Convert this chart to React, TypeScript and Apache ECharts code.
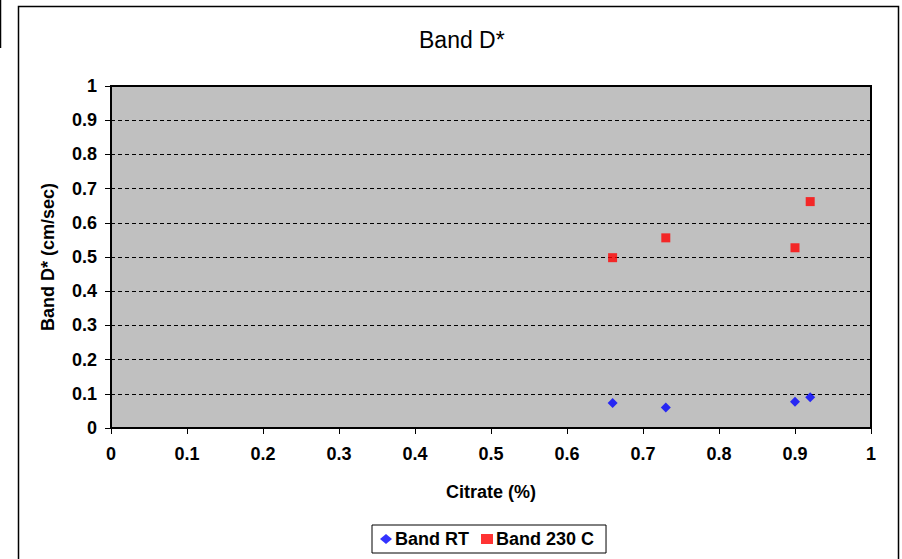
import React, { useEffect, useRef } from "react";
import * as echarts from "echarts";

const titleText = "Band D*";
const xName = "Citrate (%)";
const yName = "Band D* (cm/sec)";
const rtName = "Band RT";
const hotName = "Band 230 C";
const rtX = [0.66, 0.73, 0.9, 0.92];
const rtY = [0.073, 0.06, 0.077, 0.09];
const hotX = [0.66, 0.73, 0.9, 0.92];
const hotY = [0.498, 0.556, 0.527, 0.662];

const FONT = "'Liberation Sans', Arial, sans-serif";

export default function App() {
  const ref = useRef<HTMLDivElement>(null);
  useEffect(() => {
    document.body.style.margin = "0";
    const chart = echarts.init(ref.current!, null, { renderer: "svg" });
    const label = { fontFamily: FONT, fontWeight: "bold", fontSize: 18, color: "#000" };
    chart.setOption({
      animation: false,
      backgroundColor: "#fff",
      title: {
        text: titleText,
        left: 414,
        top: 23,
        textStyle: { fontFamily: FONT, fontWeight: "normal", fontSize: 23, color: "#000" },
      },
      grid: {
        left: 111,
        top: 86,
        width: 760,
        height: 342,
        show: true,
        backgroundColor: "#c0c0c0",
        borderColor: "#000",
        borderWidth: 2,
      },
      legend: {
        left: 372,
        top: 525,
        itemGap: 12,
        itemWidth: 12,
        itemHeight: 10,
        padding: [5, 12, 5, 8],
        borderColor: "#000",
        borderWidth: 1,
        textStyle: { ...label, padding: [0, 0, 0, -2] },
        data: [
          { name: rtName, icon: "diamond" },
          { name: hotName, icon: "rect" },
        ],
      },
      xAxis: {
        type: "value",
        min: 0,
        max: 1,
        interval: 0.1,
        name: xName,
        nameLocation: "middle",
        nameGap: 55,
        nameTextStyle: label,
        axisLine: { show: true, lineStyle: { color: "#000", width: 2 } },
        axisTick: { show: true, length: 6, lineStyle: { color: "#000", width: 1 } },
        axisLabel: { ...label, margin: 17 },
        splitLine: { show: false },
      },
      yAxis: {
        type: "value",
        min: 0,
        max: 1,
        interval: 0.1,
        name: yName,
        nameLocation: "middle",
        nameGap: 54,
        nameTextStyle: label,
        axisLine: { show: true, lineStyle: { color: "#000", width: 2 } },
        axisTick: { show: true, length: 6, lineStyle: { color: "#000", width: 1 } },
        axisLabel: { ...label, margin: 14 },
        splitLine: { show: true, lineStyle: { color: "#000", type: [4, 3], width: 1 } },
      },
      series: [
        {
          name: rtName,
          type: "scatter",
          symbol: "diamond",
          symbolSize: 10,
          itemStyle: { color: "#0000ff" },
          data: rtX.map((x, i) => [x, rtY[i]]),
        },
        {
          name: hotName,
          type: "scatter",
          symbol: "rect",
          symbolSize: 9,
          itemStyle: { color: "#ff0000" },
          data: hotX.map((x, i) => [x, hotY[i]]),
        },
      ],
      graphic: [
        {
          type: "rect",
          shape: { x: 18.5, y: 6.5, width: 880, height: 570 },
          style: { fill: "none", stroke: "#000", lineWidth: 1.5 },
          silent: true,
        },
        {
          type: "line",
          shape: { x1: 0.5, y1: 0, x2: 0.5, y2: 48 },
          style: { stroke: "#000", lineWidth: 1.5 },
          silent: true,
        },
      ],
    });
    return () => chart.dispose();
  }, []);
  return <div ref={ref} style={{ width: 902, height: 559 }} />;
}
